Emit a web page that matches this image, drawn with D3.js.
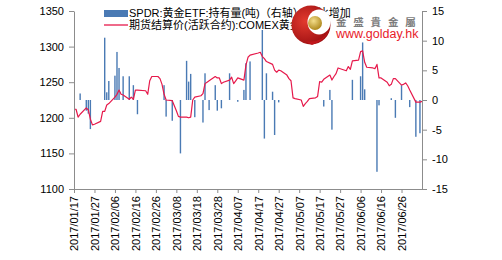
<!DOCTYPE html>
<html>
<head>
<meta charset="utf-8">
<script src="https://cdn.jsdelivr.net/npm/d3@7"></script>
<style>
  html, body { margin: 0; padding: 0; background: #fff; }
  svg { display: block; font-family: "Liberation Sans", "Noto Sans CJK SC", sans-serif; }
</style>
</head>
<body>
<svg id="grafico" width="502" height="260"></svg>
<script>
// ----------------------------------------------------
// DATOS
// ----------------------------------------------------
// COMEX gold settlement (left axis)
const priceDates = [
  "01/17","01/18","01/19","01/20","01/23","01/24","01/25","01/26","01/27","01/30","01/31",
  "02/01","02/02","02/03","02/06","02/07","02/08","02/09","02/10","02/13","02/14","02/15","02/16","02/17",
  "02/21","02/22","02/23","02/24","02/27","02/28",
  "03/01","03/02","03/03","03/06","03/07","03/08","03/09","03/10","03/13","03/14","03/15","03/16","03/17",
  "03/20","03/21","03/22","03/23","03/24","03/27","03/28","03/29","03/30","03/31",
  "04/03","04/04","04/05","04/06","04/07","04/10","04/11","04/12","04/13","04/17","04/18","04/19","04/20",
  "04/21","04/24","04/25","04/26","04/27","04/28",
  "05/01","05/02","05/03","05/04","05/05","05/08","05/09","05/10","05/11","05/12","05/15","05/16","05/17",
  "05/18","05/19","05/22","05/23","05/24","05/25","05/26","05/30","05/31",
  "06/01","06/02","06/05","06/06","06/07","06/08","06/09","06/12","06/13","06/14","06/15","06/16","06/19",
  "06/20","06/21","06/22","06/23","06/26","06/27","06/28","06/29","06/30",
  "07/03","07/05","07/06"
];
const priceValues = [
  1212,1212,1201,1205,1214,1211,1198,1190,1191,1195,1209,
  1209,1218,1220,1229,1233,1239,1233,1232,1226,1229,1226,1239,1239,
  1238,1233,1252,1258,1258,1255,
  1247,1233,1225,1224,1217,1210,1202,1201,1201,1200,1201,1225,1229,
  1231,1234,1248,1250,1252,1258,1256,1256,1248,1250,
  1253,1257,1248,1252,1256,1253,1274,1285,1288,1291,1292,1286,1283,
  1279,1275,1267,1264,1267,1266,
  1260,1255,1252,1228,1227,1225,1216,1220,1223,1227,1228,1230,1251,
  1250,1254,1260,1253,1258,1262,1270,1266,1272,
  1268,1280,1281,1293,1294,1278,1271,1270,1269,1275,1256,1256,1250,
  1245,1247,1255,1255,1246,1247,1249,1245,1239,
  1222,1222,1223
];

// SPDR ETF holdings change, tonnes (right axis)
const etfDates = [
  "01/20","01/23","01/24","01/25","02/01","02/02","02/03","02/06","02/07","02/08","02/10","02/13","02/15","02/17",
  "03/02","03/03","03/06","03/10","03/13","03/14","03/15","03/17","03/21","03/22","03/24","03/27","03/28","03/30",
  "04/03","04/07","04/10","04/11","04/13","04/19","04/20","04/21","04/24","04/25","04/27",
  "05/19","05/22","05/23","06/02","06/06","06/07","06/08","06/14","06/15","06/21","06/23","06/26","06/30",
  "07/03","07/05"
];
const etfValues = [
  1.1,-1.8,-2.3,-4.9,10.5,1.3,3.2,4.1,8.1,5.4,4.0,4.0,2.5,-2.4,
  2.5,-2.8,-3.5,-9.0,6.6,3.1,4.4,-2.9,-3.8,4.5,-1.7,2.5,-1.8,-1.4,
  4.5,-0.3,1.7,6.2,6.5,11.8,-6.5,4.5,1.4,-5.9,-0.4,
  -1.1,1.7,-5.0,3.4,4.0,9.7,1.8,-12.1,-0.9,0.3,-3.0,2.5,-1.2,
  -6.2,-5.6
];

const xTickLabels = [
  "2017/01/17","2017/01/27","2017/02/06","2017/02/16","2017/02/26","2017/03/08","2017/03/18",
  "2017/03/28","2017/04/07","2017/04/17","2017/04/27","2017/05/07","2017/05/17","2017/05/27",
  "2017/06/06","2017/06/16","2017/06/26"
];
const leftTicks = [1100, 1150, 1200, 1250, 1300, 1350];
const rightTicks = [-15, -10, -5, 0, 5, 10, 15];

const legendLabels = [
  "SPDR:黄金ETF:持有量(吨)（右轴）:环比增加",
  "期货结算价(活跃合约):COMEX黄金"
];

// ----------------------------------------------------
// ESCALAS
// ----------------------------------------------------
const svg = d3.select("#grafico");

const leftX = 74, rightX = 422, topY = 11, bottomY = 189;
const axisColor = "#8c8c8c";

const parse = d3.utcParse("%Y/%m/%d");
const day = s => parse("2017/" + s);

const x = d3.scaleUtc()
  .domain([day("01/17"), day("07/06")])
  .range([leftX, rightX]);

const yLeft = d3.scaleLinear().domain([1100, 1350]).range([bottomY, topY]);
const yRight = d3.scaleLinear().domain([-15, 15]).range([bottomY, topY]);

// ----------------------------------------------------
// BARRAS ETF
// ----------------------------------------------------
const bars = etfDates.map((d, i) => ({ date: day(d), value: etfValues[i] }));

svg.append("g")
  .selectAll("rect")
  .data(bars)
  .enter()
  .append("rect")
    .attr("x", d => x(d.date) - 0.7)
    .attr("width", 1.4)
    .attr("y", d => yRight(Math.max(0, d.value)))
    .attr("height", d => Math.abs(yRight(d.value) - yRight(0)))
    .attr("fill", "#4a7ab4");

// ----------------------------------------------------
// LINEA PRECIO
// ----------------------------------------------------
const prices = priceDates.map((d, i) => ({ date: day(d), value: priceValues[i] }));

svg.append("path")
  .datum(prices)
  .attr("fill", "none")
  .attr("stroke", "#e6194b")
  .attr("stroke-width", 1.2)
  .attr("stroke-linejoin", "round")
  .attr("d", d3.line().x(d => x(d.date)).y(d => yLeft(d.value)));

// ----------------------------------------------------
// EJES
// ----------------------------------------------------
function styleAxis(g) {
  g.select(".domain").attr("stroke", axisColor);
  g.selectAll(".tick line").attr("stroke", axisColor);
  g.selectAll(".tick text").attr("fill", "#000").style("font-size", "11px");
}

svg.append("g")
  .attr("transform", `translate(${leftX},0)`)
  .call(d3.axisLeft(yLeft).tickValues(leftTicks).tickFormat(d => String(d))
    .tickSize(5).tickSizeOuter(0).tickPadding(5))
  .call(styleAxis);

svg.append("g")
  .attr("transform", `translate(${rightX},0)`)
  .call(d3.axisRight(yRight).tickValues(rightTicks).tickFormat(d => String(d))
    .tickSize(5).tickSizeOuter(0).tickPadding(5))
  .call(styleAxis);

const xTicks = xTickLabels.map(parse);
const xAxis = svg.append("g")
  .attr("transform", `translate(0,${bottomY})`)
  .call(d3.axisBottom(x).tickValues(xTicks).tickSize(4).tickSizeOuter(0)
    .tickFormat(d3.utcFormat("%Y/%m/%d")))
  .call(styleAxis);

xAxis.selectAll(".tick text")
  .attr("transform", "rotate(-90)")
  .attr("text-anchor", "end")
  .attr("x", -7)
  .attr("y", 0)
  .attr("dy", "0.35em");

// ----------------------------------------------------
// LEYENDA
// ----------------------------------------------------
const legend = svg.append("g").style("font-size", "11px");

legend.append("rect")
  .attr("x", 104).attr("y", 10)
  .attr("width", 24).attr("height", 7)
  .attr("fill", "#4a7ab4");

legend.append("line")
  .attr("x1", 104).attr("x2", 128)
  .attr("y1", 25).attr("y2", 25)
  .attr("stroke", "#e6194b")
  .attr("stroke-width", 1.3);

legend.selectAll("text")
  .data(legendLabels)
  .enter()
  .append("text")
    .attr("x", 129)
    .attr("y", (d, i) => 13.5 + i * 12)
    .attr("dy", "0.35em")
    .attr("fill", "#000")
    .text(d => d);

// ----------------------------------------------------
// LOGO (marca de agua)
// ----------------------------------------------------
const defs = svg.append("defs");
const redGrad = defs.append("radialGradient").attr("id", "redGrad")
  .attr("cx", "35%").attr("cy", "40%").attr("r", "70%");
redGrad.append("stop").attr("offset", "0%").attr("stop-color", "#e23a2e");
redGrad.append("stop").attr("offset", "100%").attr("stop-color", "#9a0d10");

const goldGrad = defs.append("radialGradient").attr("id", "goldGrad")
  .attr("cx", "40%").attr("cy", "35%").attr("r", "65%");
goldGrad.append("stop").attr("offset", "0%").attr("stop-color", "#f3dd8a");
goldGrad.append("stop").attr("offset", "100%").attr("stop-color", "#b08a1e");

const logo = svg.append("g");
logo.append("circle").attr("cx", 311).attr("cy", 25).attr("r", 19.5).attr("fill", "url(#redGrad)");
logo.append("ellipse").attr("cx", 319).attr("cy", 22).attr("rx", 11.5).attr("ry", 12.5).attr("fill", "#fff");
logo.append("path")
  .attr("d", "M305,41 Q322,44 329,30 Q326,40 312,45 Z")
  .attr("fill", "#c0161b");
logo.append("circle").attr("cx", 315).attr("cy", 23).attr("r", 7).attr("fill", "url(#goldGrad)");

logo.append("text")
  .attr("x", 336).attr("y", 22).attr("dy", "0.35em")
  .style("font-family", "'Noto Sans CJK TC', sans-serif")
  .style("font-size", "10.5px")
  .style("font-weight", "bold")
  .style("letter-spacing", "6.8px")
  .attr("fill", "#7d7d7d")
  .text("金盛貴金屬");

logo.append("text")
  .attr("x", 336).attr("y", 34).attr("dy", "0.35em")
  .style("font-size", "12.5px")
  .attr("fill", "#e8202a")
  .text("www.golday.hk");
</script>
</body>
</html>
